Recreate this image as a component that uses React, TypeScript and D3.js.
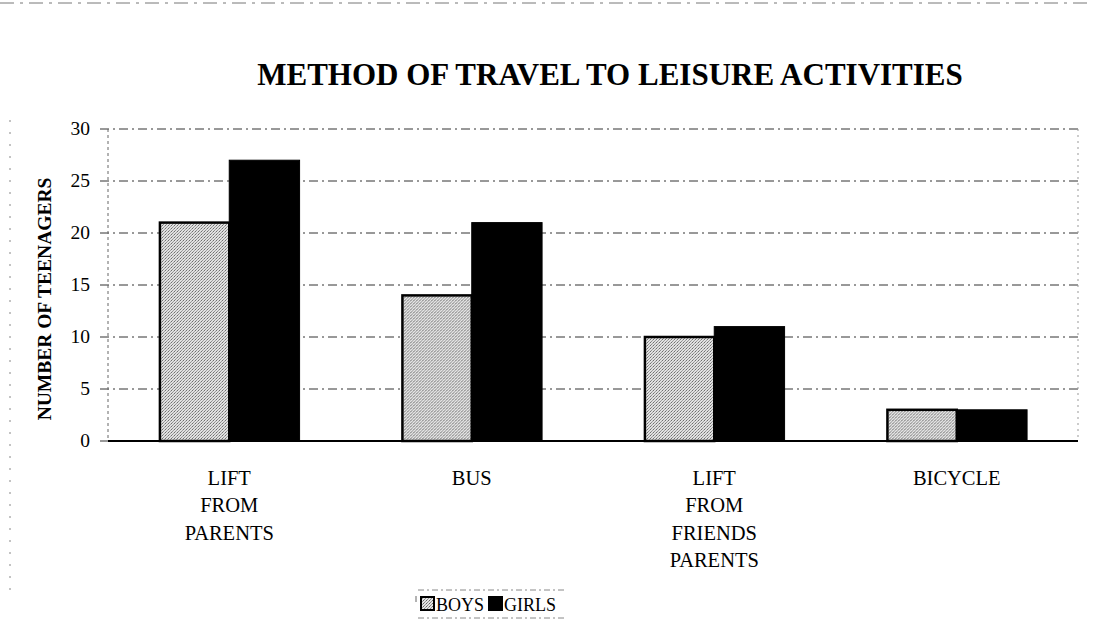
import * as d3 from "d3";
import { useEffect, useRef } from "react";

const categories = [
  ["LIFT", "FROM", "PARENTS"],
  ["BUS"],
  ["LIFT", "FROM", "FRIENDS", "PARENTS"],
  ["BICYCLE"],
];
const categoryKeys = ["LIFT FROM PARENTS", "BUS", "LIFT FROM FRIENDS PARENTS", "BICYCLE"];
const boys = [21, 14, 10, 3];
const girls = [27, 21, 11, 3];
const seriesNames = ["BOYS", "GIRLS"];
const yTicks = [0, 5, 10, 15, 20, 25, 30];

const serif = "'Liberation Serif', 'Times New Roman', serif";

function App() {
  const ref = useRef<SVGSVGElement>(null);

  useEffect(() => {
    const svg = d3.select(ref.current);
    svg.selectAll("*").remove();

    // plot area
    const left = 108, right = 1078, top = 129, bottom = 441;

    const defs = svg.append("defs");
    const pat = defs
      .append("pattern")
      .attr("id", "stipple")
      .attr("width", 3)
      .attr("height", 3)
      .attr("patternUnits", "userSpaceOnUse");
    pat.append("rect").attr("width", 3).attr("height", 3).attr("fill", "#e4e4e4");
    pat.append("rect").attr("x", 0).attr("y", 0).attr("width", 1).attr("height", 1).attr("fill", "#666");
    pat.append("rect").attr("x", 2).attr("y", 1).attr("width", 1).attr("height", 1).attr("fill", "#999");
    pat.append("rect").attr("x", 1).attr("y", 2).attr("width", 1).attr("height", 1).attr("fill", "#888");

    svg.append("rect").attr("width", 1093).attr("height", 642).attr("fill", "#fff");

    // faint outer frame bits
    svg.append("line").attr("x1", 0).attr("x2", 1093).attr("y1", 3).attr("y2", 3)
      .attr("stroke", "#777").attr("stroke-dasharray", "14,6,3,6");
    svg.append("line").attr("x1", 10).attr("x2", 10).attr("y1", 120).attr("y2", 590)
      .attr("stroke", "#888").attr("stroke-dasharray", "2,10");

    // title
    svg.append("text")
      .attr("x", 610)
      .attr("y", 85)
      .attr("text-anchor", "middle")
      .attr("font-family", serif)
      .attr("font-weight", "bold")
      .attr("font-size", 31)
      .text("METHOD OF TRAVEL TO LEISURE ACTIVITIES");

    const x0 = d3.scaleBand().domain(categoryKeys).range([left, right]).paddingInner(0.42).paddingOuter(0.21);
    const x1 = d3.scaleBand().domain(seriesNames).range([0, x0.bandwidth()]);
    const y = d3.scaleLinear().domain([0, 30]).range([bottom, top]);

    // grid
    svg.append("g")
      .selectAll("line")
      .data(yTicks.filter((t) => t > 0))
      .join("line")
      .attr("x1", left - 8)
      .attr("x2", right)
      .attr("y1", (d) => y(d))
      .attr("y2", (d) => y(d))
      .attr("stroke", "#333")
      .attr("stroke-width", 1)
      .attr("stroke-dasharray", "9,4,2,4");

    // plot frame sides
    svg.append("line").attr("x1", left).attr("x2", left).attr("y1", top).attr("y2", bottom)
      .attr("stroke", "#666").attr("stroke-dasharray", "3,3");
    svg.append("line").attr("x1", right).attr("x2", right).attr("y1", top).attr("y2", bottom)
      .attr("stroke", "#999").attr("stroke-dasharray", "2,4");

    // y labels
    svg.append("g")
      .selectAll("text")
      .data(yTicks)
      .join("text")
      .attr("x", 90)
      .attr("y", (d) => y(d))
      .attr("dy", "0.3em")
      .attr("text-anchor", "end")
      .attr("font-family", serif)
      .attr("font-size", 19.5)
      .text((d) => d);

    svg.append("line").attr("x1", left - 8).attr("x2", left).attr("y1", bottom).attr("y2", bottom)
      .attr("stroke", "#333");

    svg.append("text")
      .attr("transform", `translate(51,${(top + bottom) / 2 + 14}) rotate(-90)`)
      .attr("text-anchor", "middle")
      .attr("font-family", serif)
      .attr("font-weight", "bold")
      .attr("font-size", 19.5)
      .text("NUMBER OF TEENAGERS");

    // bars
    const groups = svg.append("g")
      .selectAll("g")
      .data(categoryKeys)
      .join("g")
      .attr("transform", (d) => `translate(${x0(d)},0)`);

    groups.append("rect")
      .attr("x", x1("BOYS")! + 1)
      .attr("y", (d, i) => y(boys[i]))
      .attr("width", x1.bandwidth() - 1)
      .attr("height", (d, i) => bottom - y(boys[i]))
      .attr("fill", "url(#stipple)")
      .attr("stroke", "#000")
      .attr("stroke-width", 2.5);

    groups.append("rect")
      .attr("x", x1("GIRLS")!)
      .attr("y", (d, i) => y(girls[i]))
      .attr("width", x1.bandwidth())
      .attr("height", (d, i) => bottom - y(girls[i]))
      .attr("fill", "#000")
      .attr("stroke", "#000")
      .attr("stroke-width", 1);

    // x axis line
    svg.append("line").attr("x1", left).attr("x2", right).attr("y1", bottom).attr("y2", bottom)
      .attr("stroke", "#000").attr("stroke-width", 2);

    // category labels
    categories.forEach((lines, i) => {
      const cx = x0(categoryKeys[i])! + x0.bandwidth() / 2;
      svg.append("g")
        .selectAll("text")
        .data(lines)
        .join("text")
        .attr("x", cx)
        .attr("y", (d, j) => 485 + j * 27.3)
        .attr("text-anchor", "middle")
        .attr("font-family", serif)
        .attr("font-size", 20.5)
        .text((d) => d);
    });

    // legend
    const lg = svg.append("g");
    lg.append("line").attr("x1", 418).attr("x2", 565).attr("y1", 590).attr("y2", 590)
      .attr("stroke", "#888").attr("stroke-dasharray", "6,3,2,3");
    lg.append("line").attr("x1", 418).attr("x2", 565).attr("y1", 618).attr("y2", 618)
      .attr("stroke", "#888").attr("stroke-dasharray", "6,3,2,3");
    lg.append("line").attr("x1", 416).attr("x2", 416).attr("y1", 596).attr("y2", 602)
      .attr("stroke", "#666");
    const items = [
      { name: seriesNames[0], fill: "url(#stipple)", x: 421 },
      { name: seriesNames[1], fill: "#000", x: 489 },
    ];
    items.forEach((it) => {
      lg.append("rect").attr("x", it.x).attr("y", 597).attr("width", 13).attr("height", 13)
        .attr("fill", it.fill).attr("stroke", "#000").attr("stroke-width", 2);
      lg.append("text").attr("x", it.x + 15).attr("y", 611)
        .attr("font-family", serif).attr("font-size", 18).text(it.name);
    });
  }, []);

  return (
    <svg
      ref={ref}
      width={1093}
      height={642}
      style={{ position: "absolute", left: 0, top: 0 }}
    />
  );
}

export default App;
